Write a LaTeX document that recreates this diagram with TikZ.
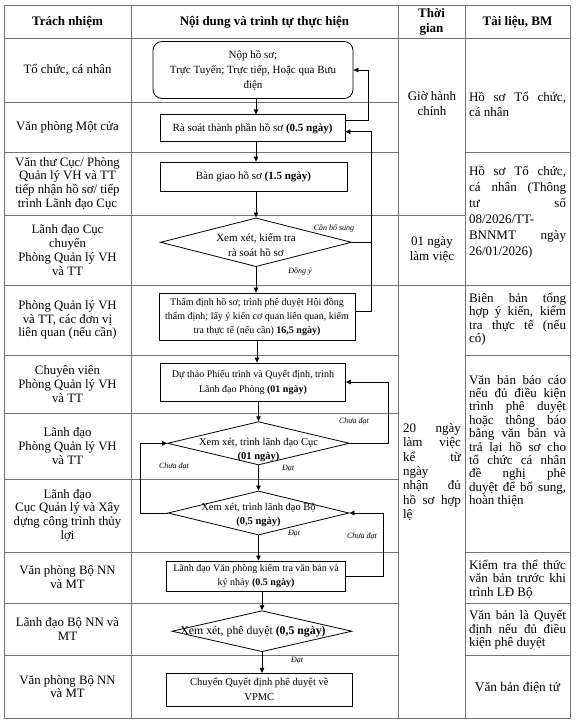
\documentclass[tikz,border=0pt]{standalone}
\usepackage{fontspec}
\setmainfont{Liberation Serif}
\usetikzlibrary{shapes.geometric,arrows.meta}
\newcommand\JL[2]{\makebox[#1][s]{#2}}
\begin{document}
\begin{tikzpicture}[x=1pt,y=-1pt,
  tline/.style={draw=black!55, line width=0.7pt},
  hd/.style={align=center, inner sep=0pt, font=\fontsize{13}{15}\selectfont\bfseries},
  lc/.style={align=center, inner sep=0pt, font=\fontsize{12.8}{13.8}\selectfont},
  rc/.style={align=left, inner sep=0pt, font=\fontsize{13}{13.4}\selectfont},
  fbox/.style={draw, line width=0.8pt, align=center, inner sep=0pt},
  dia/.style={draw, diamond, line width=0.8pt, inner sep=0pt},
  ft/.style={align=center, inner sep=0pt},
  lab/.style={inner sep=0pt, font=\fontsize{8}{9}\selectfont\itshape},
  arr/.style={-{Triangle[length=5pt,width=4.5pt]}, line width=0.8pt},
  fl/.style={line width=0.8pt}]
\useasboundingbox (0,0) rectangle (576,725);
% ---------- table grid
\draw[tline] (4,5) rectangle (570,718);
\foreach \x in {131,398,465} \draw[tline] (\x,5) -- (\x,718);
\draw[tline] (4,38) -- (570,38);
\foreach \y in {102,152,215,285,355,413,479,552,603,655} \draw[tline] (4,\y) -- (398,\y);
\foreach \y in {215,285} \draw[tline] (398,\y) -- (465,\y);
\foreach \y in {152,285,355,552,603,655} \draw[tline] (465,\y) -- (570,\y);
% ---------- header
\node[hd] (h1) at (67.5,22) {Trách nhiệm};
\node[hd] (h2) at (264.5,22) {Nội dung và trình tự thực hiện};
\node[hd] (h3) at (431.5,22) {Thời\\gian};
\node[hd] (h4) at (517.5,22) {Tài liệu, BM};
% ---------- left column
\node[lc] (l1) at (67.5,70) {Tổ chức, cá nhân};
\node[lc] (l2) at (67.5,127) {Văn phòng Một cửa};
\node[lc] (l3) at (67.5,183.5) {Văn thư Cục/ Phòng\\Quản lý VH và TT\\tiếp nhận hồ sơ/ tiếp\\trình Lãnh đạo Cục};
\node[lc] (l4) at (67.5,250) {Lãnh đạo Cục\\chuyển\\Phòng Quản lý VH\\và TT};
\node[lc] (l5) at (67.5,320) {Phòng Quản lý VH\\và TT, các đơn vị\\liên quan (nếu cần)};
\node[lc] (l6) at (67.5,384) {Chuyên viên\\Phòng Quản lý VH\\và TT};
\node[lc] (l7) at (67.5,446) {Lãnh đạo\\Phòng Quản lý VH\\và TT};
\node[lc] (l8) at (67.5,515.5) {Lãnh đạo\\Cục Quản lý và Xây\\dựng công trình thủy\\lợi};
\node[lc] (l9) at (67.5,577.5) {Văn phòng Bộ NN\\và MT};
\node[lc] (l10) at (67.5,629) {Lãnh đạo Bộ NN và\\MT};
\node[lc] (l11) at (67.5,686.5) {Văn phòng Bộ NN\\và MT};
% ---------- time column
\node[lc, font=\fontsize{13}{15}\selectfont] (g1) at (432,104) {Giờ hành\\chính};
\node[lc, font=\fontsize{13}{15}\selectfont] (g2) at (432,250) {01 ngày\\làm việc};
\node[rc, font=\fontsize{13}{14.3}\selectfont] (g3) at (432,472) {\JL{58pt}{20 ngày}\\\JL{58pt}{làm việc}\\\JL{58pt}{kể từ}\\ngày\\\JL{58pt}{nhận đủ}\\\JL{58pt}{hồ sơ hợp}\\lệ};
% ---------- documents column
\node[rc, font=\fontsize{13}{15}\selectfont] (a1) at (517.5,104) {\JL{97pt}{Hồ sơ Tổ chức,}\\cá nhân};
\node[rc, font=\fontsize{13}{16}\selectfont] (a2) at (517.5,212) {\JL{97pt}{Hồ sơ Tổ chức,}\\\JL{97pt}{cá nhân (Thông}\\\JL{97pt}{tư số}\\08/2026/TT-\\\JL{97pt}{BNNMT ngày}\\26/01/2026)};
\node[rc] (a3) at (517.5,319) {\JL{97pt}{Biên bản tổng}\\\JL{97pt}{hợp ý kiến, kiểm}\\\JL{97pt}{tra thực tế (nếu}\\có)};
\node[rc] (a4) at (517.5,441) {\JL{97pt}{Văn bản báo cáo}\\\JL{97pt}{nếu đủ điều kiện}\\\JL{97pt}{trình phê duyệt}\\\JL{97pt}{hoặc thông báo}\\\JL{97pt}{bằng văn bản và}\\\JL{97pt}{trả lại hồ sơ cho}\\\JL{97pt}{tổ chức cá nhân}\\\JL{97pt}{đề nghị phê}\\\JL{97pt}{duyệt để bổ sung,}\\hoàn thiện};
\node[rc] (a5) at (517.5,579) {\JL{97pt}{Kiểm tra thể thức}\\\JL{97pt}{văn bản trước khi}\\trình LĐ Bộ};
\node[rc] (a6) at (517.5,630) {\JL{97pt}{Văn bản là Quyết}\\\JL{97pt}{định nếu đủ điều}\\kiện phê duyệt};
\node[lc, font=\fontsize{13.3}{15}\selectfont] (a7) at (517.5,688) {Văn bản điện tử};
% ---------- flowchart
\node[fbox, rounded corners=9pt, minimum width=200pt, minimum height=57pt, font=\fontsize{11}{15}\selectfont] (n1) at (253,70) {Nộp hồ sơ;\\Trực Tuyến; Trực tiếp, Hoặc qua Bưu\\điện};
\node[fbox, minimum width=185pt, minimum height=27pt, font=\fontsize{11}{13}\selectfont] (n2) at (252.5,128.3) {Rà soát thành phần hồ sơ \textbf{(0.5 ngày)}};
\node[fbox, minimum width=187pt, minimum height=29.5pt, font=\fontsize{11}{13}\selectfont] (n3) at (253.5,176.8) {Bàn giao hồ sơ \textbf{(1.5 ngày)}};
\node[dia, minimum width=191pt, minimum height=48.7pt] (d1) at (256,242.3) {};
\node[ft, font=\fontsize{11}{15}\selectfont] (d1t) at (256,245) {Xem xét, kiểm tra\\rà soát hồ sơ};
\node[fbox, minimum width=196pt, minimum height=47pt, font=\fontsize{10}{14}\selectfont] (n4) at (257,316.5) {Thẩm định hồ sơ; trình phê duyệt Hội đồng\\thẩm định; lấy ý kiến cơ quan liên quan, kiểm\\tra thực tế (nếu cần) \textbf{16,5 ngày)}};
\node[fbox, minimum width=185pt, minimum height=38pt, font=\fontsize{10}{15}\selectfont] (n5) at (253,382) {Dự thảo Phiếu trình và Quyết định, trình\\Lãnh đạo Phòng \textbf{(01 ngày)}};
\node[dia, minimum width=182pt, minimum height=43.3pt] (d2) at (258.5,443.3) {};
\node[ft, font=\fontsize{10.5}{14}\selectfont] (d2t) at (258.5,450) {Xem xét, trình lãnh đạo Cục\\\textbf{(01 ngày)}};
\node[dia, minimum width=181pt, minimum height=44pt] (d3) at (258.5,513) {};
\node[ft, font=\fontsize{10.5}{14}\selectfont] (d3t) at (258.5,515) {Xem xét, trình lãnh đạo Bộ\\\textbf{(0,5 ngày)}};
\node[fbox, minimum width=179pt, minimum height=30.7pt, font=\fontsize{10}{14}\selectfont] (n6) at (256,576.3) {Lãnh đạo Văn phòng kiểm tra văn bản và\\ký nháy \textbf{(0.5 ngày)}};
\node[dia, minimum width=180pt, minimum height=41pt] (d4) at (262,631.2) {};
\node[ft, font=\fontsize{11.8}{13}\selectfont] (d4t) at (253,632) {Xem xét, phê duyệt \textbf{(0,5 ngày)}};
\node[fbox, minimum width=185.5pt, minimum height=32.7pt, font=\fontsize{10.5}{15}\selectfont] (n7) at (259.3,689.7) {Chuyển Quyết định phê duyệt về\\VPMC};
% ---------- vertical arrows
\draw[arr] (n1.south -| 256,0) -- (n2.north -| 256,0);
\draw[arr] (n2.south -| 256,0) -- (n3.north -| 256,0);
\draw[arr] (n3.south -| 256,0) -- (d1.north);
\draw[arr] (d1.south) -- (n4.north -| 256,0);
\draw[arr] (n4.south -| 257,0) -- (n5.north -| 257,0);
\draw[arr] (n5.south -| 258.5,0) -- (d2.north);
\draw[arr] (d2.south) -- (d3.north);
\draw[arr] (d3.south) -- (n6.north -| 258.5,0);
\draw[arr] (n6.south -| 262,0) -- (d4.north);
\draw[arr] (d4.south) -- (n7.north -| 262,0);
% ---------- loops
\draw[arr] (n2.east |- 0,120) -- (368,120) |- (n1.east);
\draw[arr] (n4.east |- 0,311.7) -- (371,311.7) |- (n2.east |- 0,131.7);
\draw[fl] (d1.east) -- (d1.east -| 371,0);
\draw[arr] (d2.east) -- (d2.east -| 388,0) |- (n5.east);
\draw[arr] (d3.west) -- (d3.west -| 140,0) |- (d2.west);
\draw[arr] (n6.east) -- (n6.east -| 383,0) |- (d3.east);
% ---------- labels
\node[lab] (c1) at (334,228) {Cần bổ sung};
\node[lab] (c2) at (300,271) {Đồng ý};
\node[lab] (c3) at (354,421) {Chưa đạt};
\node[lab] (c4) at (174,466) {Chưa đạt};
\node[lab] (c5) at (288,469) {Đạt};
\node[lab] (c6) at (294,534) {Đạt};
\node[lab] (c7) at (362,536) {Chưa đạt};
\node[lab] (c8) at (297,661) {Đạt};
\end{tikzpicture}
\end{document}
